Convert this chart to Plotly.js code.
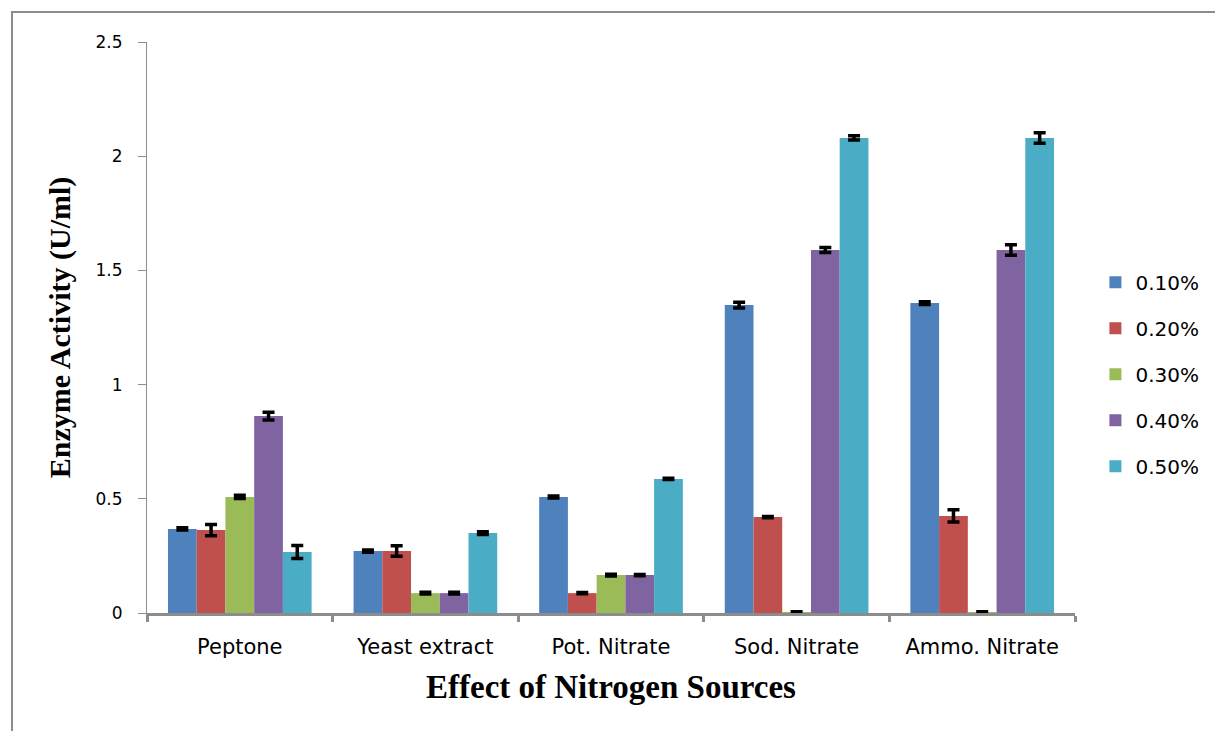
<!DOCTYPE html>
<html>
<head>
<meta charset="utf-8">
<script src="https://cdn.plot.ly/plotly-3.0.1.min.js"></script>
<style>
  html, body { margin: 0; padding: 0; background: #fff; }
  #wrap { position: relative; width: 1215px; height: 731px; overflow: hidden; }
  #chart { position: absolute; left: 0; top: 0; width: 1215px; height: 731px; }
  #frame { position: absolute; left: 11px; top: 11px; width: 1300px; height: 800px;
           border-left: 2px solid #8c8c8c; border-top: 2px solid #8c8c8c; pointer-events: none; }
</style>
</head>
<body>
<div id="wrap">
  <div id="chart"></div>
  <div id="frame"></div>
</div>
<script>
const categories = ["Peptone", "Yeast extract", "Pot. Nitrate", "Sod. Nitrate", "Ammo. Nitrate"];
const seriesNames = ["0.10%", "0.20%", "0.30%", "0.40%", "0.50%"];
const seriesColors = ["#4F81BD", "#C0504D", "#9BBB59", "#8064A2", "#4BACC6"];

const values010 = [0.368, 0.271, 0.508, 1.348, 1.357];
const values020 = [0.363, 0.271, 0.087, 0.420, 0.425];
const values030 = [0.508, 0.087, 0.166, 0.003, 0.004];
const values040 = [0.862, 0.087, 0.166, 1.589, 1.589];
const values050 = [0.267, 0.350, 0.587, 2.080, 2.080];

const errors010 = [0.005, 0.005, 0.004, 0.013, 0.006];
const errors020 = [0.025, 0.023, 0.003, 0.003, 0.027];
const errors030 = [0.007, 0.004, 0.004, 0.002, 0.002];
const errors040 = [0.017, 0.004, 0.003, 0.011, 0.023];
const errors050 = [0.028, 0.006, 0.003, 0.009, 0.023];

const yTickVals = [0, 0.5, 1, 1.5, 2, 2.5];
const yTickText = ["0", "0.5", "1", "1.5", "2", "2.5"];

const allValues = [values010, values020, values030, values040, values050];
const allErrors = [errors010, errors020, errors030, errors040, errors050];

const traces = seriesNames.map((name, i) => ({
  type: "bar",
  name: name,
  x: categories,
  y: allValues[i],
  legendgroup: "g" + i,
  marker: { color: seriesColors[i], line: { width: 0 } },
  error_y: { type: "data", array: allErrors[i], visible: true, color: "#000000", thickness: 3.5, width: 6 },
  hoverinfo: "x+y+name"
}));

const layout = {
  width: 1215,
  height: 731,
  paper_bgcolor: "#ffffff",
  plot_bgcolor: "#ffffff",
  margin: { l: 147, r: 140, t: 42, b: 118, pad: 0, autoexpand: false },
  barmode: "group",
  bargap: 0.226,
  bargroupgap: 0,
  showlegend: true,
  legend: {
    x: 1.022, xanchor: "left",
    y: 0.418, yanchor: "middle",
    font: { family: "DejaVu Sans, Verdana, sans-serif", size: 20, color: "#000" },
    tracegroupgap: 17,
    itemwidth: 30,
    bgcolor: "rgba(0,0,0,0)"
  },
  xaxis: {
    type: "category",
    showgrid: false,
    zeroline: false,
    showline: true,
    linecolor: "#8c8c8c",
    linewidth: 2.5,
    ticks: "outside",
    tickson: "boundaries",
    ticklen: 6,
    tickwidth: 2.5,
    tickcolor: "#8c8c8c",
    tickfont: { family: "DejaVu Sans, Verdana, sans-serif", size: 21, color: "#000" },
    ticklabelstandoff: 13,
    title: { text: "Effect of Nitrogen Sources", font: { family: "Liberation Serif, Times New Roman, serif", size: 33, color: "#000", weight: "bold" }, standoff: 17 },
    automargin: false
  },
  yaxis: {
    range: [0, 2.5],
    tickvals: yTickVals,
    ticktext: yTickText,
    showgrid: false,
    zeroline: false,
    showline: true,
    linecolor: "#8c8c8c",
    linewidth: 1,
    ticks: "outside",
    ticklen: 8,
    tickwidth: 1,
    tickcolor: "#8c8c8c",
    tickfont: { family: "DejaVu Sans, Verdana, sans-serif", size: 17, color: "#000" },
    ticklabelstandoff: 12,
    title: { text: "Enzyme Activity (U/ml)", font: { family: "Liberation Serif, Times New Roman, serif", size: 30, color: "#000", weight: "bold" }, standoff: 16 },
    automargin: false
  }
};

Plotly.newPlot("chart", traces, layout, { displayModeBar: false, staticPlot: false });
</script>
</body>
</html>
